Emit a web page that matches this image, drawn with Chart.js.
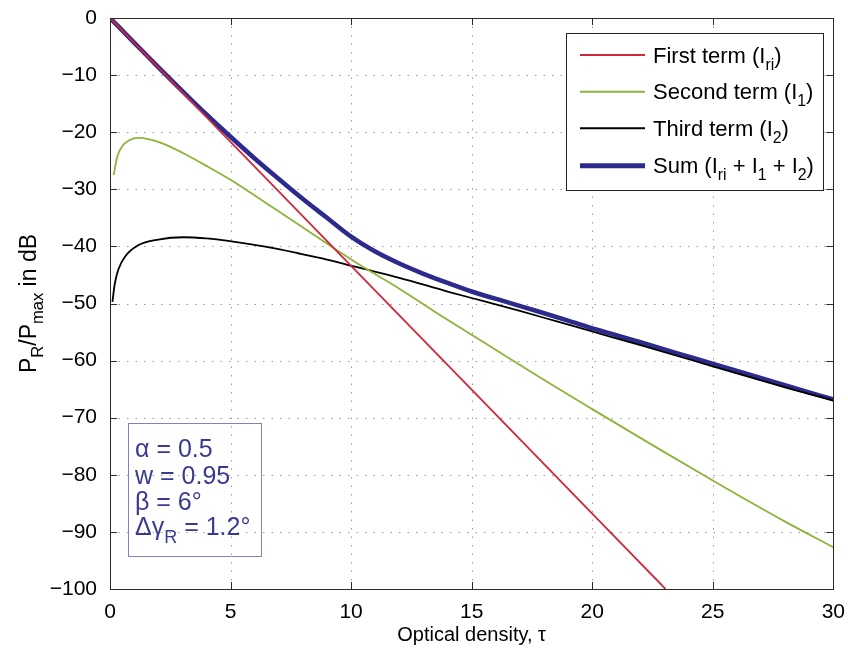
<!DOCTYPE html>
<html>
<head>
<meta charset="utf-8">
<script src="https://cdn.jsdelivr.net/npm/chart.js@4.4.1/dist/chart.umd.min.js"></script>
<style>
html,body{margin:0;padding:0;background:#fff;}
canvas{display:block;}
</style>
</head>
<body>
<canvas id="c" width="848" height="653"></canvas>
<script>
// ---- data ----
const xTicks = [0, 5, 10, 15, 20, 25, 30];
const yTicks = [0, -10, -20, -30, -40, -50, -60, -70, -80, -90, -100];

const redX = [0, 5, 10, 15, 20, 23.04];
const redY = [0, -21.7, -43.4, -65.1, -86.8, -100];

const greenX = [0.15, 0.3, 0.5, 0.8, 1.17, 1.6, 2.2, 3, 4, 5.18, 6.5, 7.8, 9.53, 10.3, 12, 13.9, 15.5, 17.77, 20, 22.5, 25, 26.4, 28, 30];
const greenY = [-27.5, -24.3, -22.5, -21.4, -21.0, -21.2, -22.0, -23.6, -25.9, -28.8, -32.5, -36.1, -41.0, -43.1, -47.4, -52.6, -56.8, -62.8, -68.5, -74.8, -81.0, -84.4, -88.2, -92.7];

const blackX = [0.1, 0.2, 0.35, 0.62, 1.17, 2, 3.04, 4, 5.18, 6.5, 7.8, 9, 10.2, 12, 14, 15.5, 17, 18.5, 20, 22, 25, 28, 30];
const blackY = [-49.7, -46.5, -44.0, -41.8, -39.8, -38.8, -38.4, -38.6, -39.2, -40.1, -41.2, -42.3, -43.6, -45.5, -47.9, -49.6, -51.3, -53.1, -54.9, -57.3, -61.0, -64.7, -67.0];

const sumX = [0, 1, 2, 3, 4, 5, 6, 7, 8, 9, 10, 11, 12, 13, 14, 15, 16.5, 17.77, 19, 20.13, 21.93, 23.5, 25.12, 27.5, 30];
const sumY = [0, -4.3, -8.6, -12.8, -16.9, -20.8, -24.6, -28.2, -31.7, -35.0, -38.3, -40.9, -43.0, -44.8, -46.4, -47.9, -49.8, -51.4, -53.0, -54.5, -56.7, -58.7, -60.7, -63.7, -66.8];

const seriesNames = ['First term', 'Second term', 'Third term', 'Sum'];
const colors = { red: '#d0283a', green: '#8db43a', black: '#000000', blue: '#2c2a8c' };

function pts(xs, ys) { return xs.map((x, i) => ({ x: x, y: ys[i] })); }

const FONT = '"Liberation Sans", Arial, Helvetica, sans-serif';
Chart.defaults.font.family = FONT;

function drawRich(ctx, parts, x, y, size, align) {
  const subSize = size * 0.72;
  let w = 0;
  parts.forEach(p => {
    ctx.font = (p[1] ? subSize : size) + 'px ' + FONT;
    w += ctx.measureText(p[0]).width;
  });
  let cx = align === 'center' ? x - w / 2 : x;
  ctx.textAlign = 'left';
  ctx.textBaseline = 'alphabetic';
  parts.forEach(p => {
    ctx.font = (p[1] ? subSize : size) + 'px ' + FONT;
    ctx.fillText(p[0], cx, p[1] ? y + size * 0.32 : y);
    cx += ctx.measureText(p[0]).width;
  });
}

const matlabPlugin = {
  id: 'matlab',
  beforeDatasetsDraw(chart) {
    const { ctx, chartArea: a, scales: { x, y } } = chart;
    ctx.save();
    ctx.strokeStyle = '#9a9a9a';
    ctx.lineWidth = 1;
    ctx.setLineDash([1.5, 7]);
    xTicks.forEach(v => {
      if (v === 0 || v === 30) return;
      const px = Math.round(x.getPixelForValue(v)) + 0.5;
      ctx.beginPath(); ctx.moveTo(px, a.top); ctx.lineTo(px, a.bottom); ctx.stroke();
    });
    yTicks.forEach(v => {
      if (v === 0 || v === -100) return;
      const py = Math.round(y.getPixelForValue(v)) + 0.5;
      ctx.beginPath(); ctx.moveTo(a.left, py); ctx.lineTo(a.right, py); ctx.stroke();
    });
    ctx.restore();
  },
  afterDraw(chart) {
    const { ctx, chartArea: a, scales: { x, y } } = chart;
    ctx.save();
    // box
    ctx.strokeStyle = '#2a2a2a';
    ctx.lineWidth = 1;
    ctx.setLineDash([]);
    ctx.strokeRect(Math.round(a.left) + 0.5, Math.round(a.top) + 0.5, Math.round(a.right - a.left), Math.round(a.bottom - a.top));
    // inward ticks
    const tl = 7;
    ctx.beginPath();
    xTicks.forEach(v => {
      const px = Math.round(x.getPixelForValue(v)) + 0.5;
      ctx.moveTo(px, a.bottom); ctx.lineTo(px, a.bottom - tl);
      ctx.moveTo(px, a.top); ctx.lineTo(px, a.top + tl);
    });
    yTicks.forEach(v => {
      const py = Math.round(y.getPixelForValue(v)) + 0.5;
      ctx.moveTo(a.left, py); ctx.lineTo(a.left + tl, py);
      ctx.moveTo(a.right, py); ctx.lineTo(a.right - tl, py);
    });
    ctx.stroke();

    // legend
    const lx = 566, ly = 33, lw = 257, lh = 157;
    ctx.fillStyle = '#fff';
    ctx.fillRect(lx, ly, lw, lh);
    ctx.strokeStyle = '#222';
    ctx.strokeRect(lx + 0.5, ly + 0.5, lw, lh);
    const rows = [55, 91.7, 128.3, 165.7];
    const legendCols = [colors.red, colors.green, colors.black, colors.blue];
    const legendW = [2, 2, 2, 5];
    const legendTxt = [
      [[seriesNames[0] + ' (I', 0], ['ri', 1], [')', 0]],
      [[seriesNames[1] + ' (I', 0], ['1', 1], [')', 0]],
      [[seriesNames[2] + ' (I', 0], ['2', 1], [')', 0]],
      [[seriesNames[3] + ' (I', 0], ['ri', 1], [' + I', 0], ['1', 1], [' + I', 0], ['2', 1], [')', 0]]
    ];
    rows.forEach((ry, i) => {
      ctx.strokeStyle = legendCols[i];
      ctx.lineWidth = legendW[i];
      ctx.beginPath(); ctx.moveTo(580, ry); ctx.lineTo(645, ry); ctx.stroke();
      ctx.fillStyle = '#000';
      drawRich(ctx, legendTxt[i], 653, ry + 7.5, 22, 'left');
    });

    // parameter box
    ctx.lineWidth = 1;
    ctx.strokeStyle = '#8a7cc0';
    ctx.strokeRect(128.5, 423.5, 133, 133);
    ctx.fillStyle = '#3a3a92';
    drawRich(ctx, [['α = 0.5', 0]], 135, 457, 25, 'left');
    drawRich(ctx, [['w = 0.95', 0]], 135, 483.5, 25, 'left');
    drawRich(ctx, [['β = 6°', 0]], 135, 510, 25, 'left');
    drawRich(ctx, [['Δγ', 0], ['R', 1], [' = 1.2°', 0]], 135, 535, 25, 'left');

    // axis titles
    ctx.fillStyle = '#000';
    drawRich(ctx, [['Optical density, τ', 0]], (a.left + a.right) / 2, 641, 20, 'center');
    ctx.translate(36, (a.top + a.bottom) / 2);
    ctx.rotate(-Math.PI / 2);
    drawRich(ctx, [['P', 0], ['R', 1], ['/P', 0], ['max', 1], [' in dB', 0]], 0, 0, 23, 'center');
    ctx.restore();
  }
};

new Chart(document.getElementById('c'), {
  type: 'line',
  data: {
    datasets: [
      { label: seriesNames[0], data: pts(redX, redY), borderColor: colors.red, borderWidth: 1.8, pointRadius: 0, tension: 0 },
      { label: seriesNames[1], data: pts(greenX, greenY), borderColor: colors.green, borderWidth: 1.8, pointRadius: 0, cubicInterpolationMode: 'monotone' },
      { label: seriesNames[2], data: pts(blackX, blackY), borderColor: colors.black, borderWidth: 1.8, pointRadius: 0, cubicInterpolationMode: 'monotone' },
      { label: seriesNames[3], data: pts(sumX, sumY), borderColor: colors.blue, borderWidth: 4.5, pointRadius: 0, cubicInterpolationMode: 'monotone' }
    ]
  },
  options: {
    responsive: false,
    animation: false,
    devicePixelRatio: 1,
    layout: { padding: { left: 0, right: 14, top: 18, bottom: 0 } },
    plugins: { legend: { display: false }, tooltip: { enabled: false } },
    scales: {
      x: {
        type: 'linear', min: 0, max: 30,
        grid: { display: false }, border: { display: false },
        afterFit(s) { s.height = 64; },
        afterBuildTicks(s) { s.ticks = xTicks.map(v => ({ value: v })); },
        ticks: { color: '#000', font: { size: 21 }, padding: 3, maxRotation: 0, autoSkip: false,
          callback: v => String(v) }
      },
      y: {
        type: 'linear', min: -100, max: 0,
        grid: { display: false }, border: { display: false },
        afterFit(s) { s.width = 110; },
        afterBuildTicks(s) { s.ticks = yTicks.map(v => ({ value: v })); },
        ticks: { color: '#000', font: { size: 21 }, padding: 5, autoSkip: false,
          callback: v => String(v).replace('-', '\u2212') }
      }
    }
  },
  plugins: [matlabPlugin]
});
</script>
</body>
</html>
